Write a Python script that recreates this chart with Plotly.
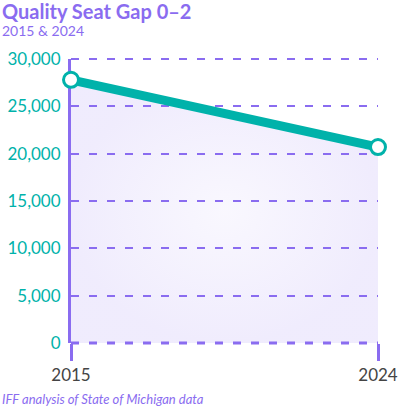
import plotly.graph_objects as go

years = [2015, 2024]
seat_gap = [27800, 20700]
y_ticks = [0, 5000, 10000, 15000, 20000, 25000, 30000]
y_tick_labels = ["0", "5,000", "10,000", "15,000", "20,000", "25,000", "30,000"]

PURPLE = "#8a6cf0"
TEAL = "#00b2aa"
FONT = "Lato"

fig = go.Figure()
fig.add_trace(go.Scatter(
    x=years, y=seat_gap, mode="lines+markers",
    line=dict(color=TEAL, width=9),
    marker=dict(size=15, color="white", line=dict(color=TEAL, width=3)),
    fill="tozeroy",
    fillgradient=dict(type="radial", colorscale=[[0, "rgba(138,108,240,0.05)"],
                                                 [1, "rgba(138,108,240,0.13)"]]),
    cliponaxis=False, hoverinfo="skip",
))

# dashed lines at the bottom and top edges of the y range (0 and 30,000),
# drawn in paper coords so they are not clipped in half
fig.add_shape(type="line", xref="paper", yref="paper", x0=0, x1=1, y0=0, y1=0,
              line=dict(color=PURPLE, width=3, dash="8px,10px"), layer="between")
fig.add_shape(type="line", xref="paper", yref="paper", x0=0, x1=1, y0=1, y1=1,
              line=dict(color=PURPLE, width=2, dash="8px,10px"), layer="between")

fig.update_layout(
    width=401, height=409,
    margin=dict(l=71, r=23, t=59, b=66),
    paper_bgcolor="white", plot_bgcolor="white",
    showlegend=False,
    font=dict(family=FONT),
    xaxis=dict(
        range=[2015, 2024], tickvals=years, ticktext=[str(y) for y in years],
        showgrid=False, zeroline=False, showline=False, automargin=False,
        ticks="outside", ticklen=17, tickwidth=3, tickcolor=PURPLE,
        tickfont=dict(size=17, color="#444444", family=FONT),
        layer="below traces",
    ),
    yaxis=dict(
        range=[0, 30000], tickvals=y_ticks, ticktext=y_tick_labels,
        showgrid=True, gridcolor=PURPLE, gridwidth=2, griddash="8px,10px",
        zeroline=False, showline=True, linecolor=PURPLE, linewidth=3,
        ticks="", ticklabelstandoff=4, automargin=False,
        tickfont=dict(size=17, color=TEAL, family=FONT),
        layer="below traces",
    ),
    annotations=[
        dict(text="<b>Quality Seat Gap 0–2</b>", xref="paper", yref="paper",
             x=-71/307, y=1 + 48/284, xanchor="left", yanchor="middle", showarrow=False,
             font=dict(size=20, color=PURPLE, family=FONT)),
        dict(text="2015 & 2024", xref="paper", yref="paper",
             x=-71/307, y=1 + 28/284, xanchor="left", yanchor="middle", showarrow=False,
             font=dict(size=14, color=PURPLE, family=FONT)),
        dict(text="<i>IFF analysis of State of Michigan data</i>", xref="paper", yref="paper",
             x=-71/307, y=-56/284, xanchor="left", yanchor="middle", showarrow=False,
             font=dict(size=13, color=PURPLE, family=FONT)),
    ],
)

fig.write_html("out.html", config={"displayModeBar": False},
               post_script="document.body.style.margin='0';")
